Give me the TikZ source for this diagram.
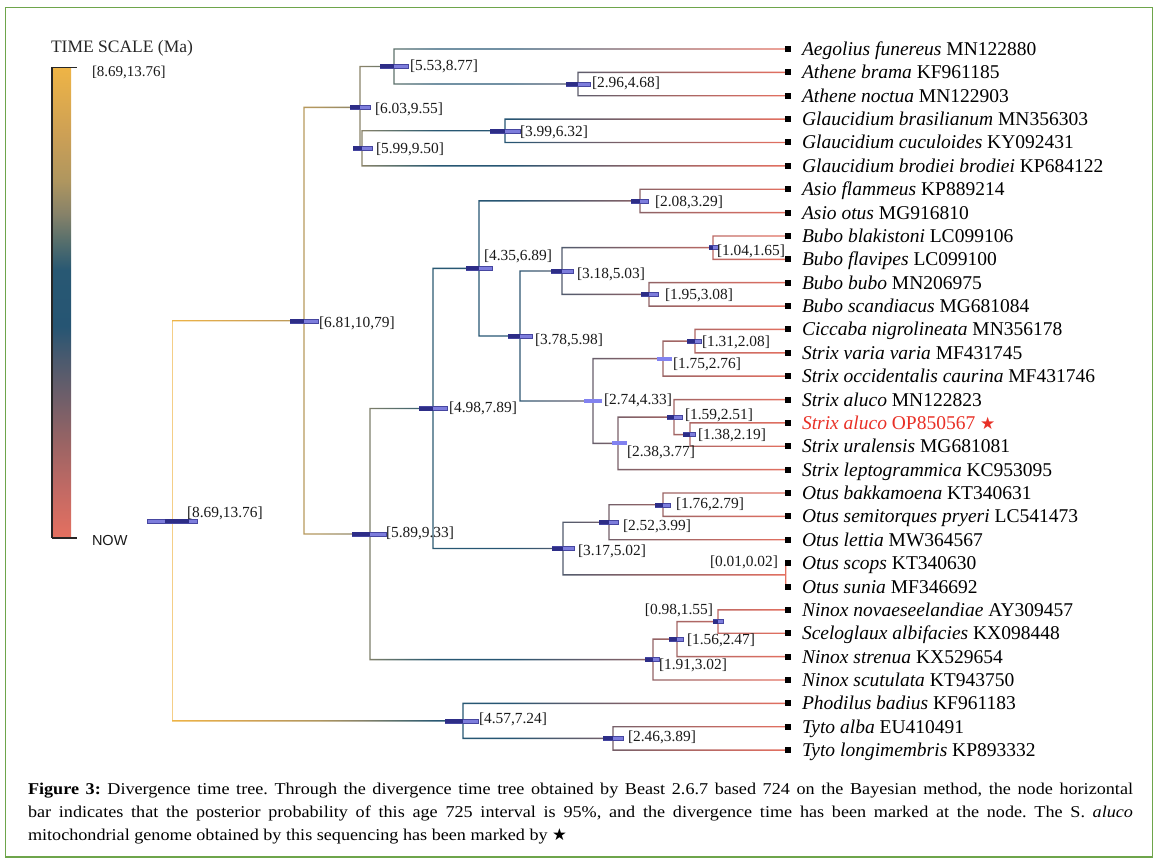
\documentclass[tikz,border=0pt]{standalone}
\usepackage{fontspec}
\setmainfont{Liberation Serif}
\setsansfont{Liberation Sans}
\newfontfamily\symfont{DejaVu Sans}
\newfontfamily\capfont[FakeStretch=1.1]{Liberation Serif}
\usetikzlibrary{calc}
\definecolor{k0}{RGB}{238,180,70}
\definecolor{k1}{RGB}{205,160,85}
\definecolor{k2}{RGB}{175,150,95}
\definecolor{k3}{RGB}{135,130,105}
\definecolor{k4}{RGB}{85,110,108}
\definecolor{k5}{RGB}{40,88,115}
\definecolor{k6}{RGB}{38,85,115}
\definecolor{k7}{RGB}{75,90,110}
\definecolor{k8}{RGB}{115,95,105}
\definecolor{k9}{RGB}{155,100,100}
\definecolor{k10}{RGB}{195,106,100}
\definecolor{k11}{RGB}{228,112,96}
\definecolor{barD}{RGB}{45,45,135}
\definecolor{barL}{RGB}{125,125,220}
\definecolor{barE}{RGB}{70,70,160}
\definecolor{barP}{RGB}{130,130,240}
\definecolor{frameG}{RGB}{110,165,75}
\definecolor{starR}{RGB}{232,48,38}
\pgfdeclarehorizontalshading{timeH}{100bp}{color(0bp)=(k0); color(25bp)=(k0); color(32bp)=(k1); color(37bp)=(k2); color(40.5bp)=(k3); color(43.5bp)=(k4); color(46.5bp)=(k5); color(52.5bp)=(k6); color(56bp)=(k7); color(60.5bp)=(k8); color(65bp)=(k9); color(70bp)=(k10); color(75bp)=(k11); color(100bp)=(k11)}
\pgfdeclareverticalshading{timeV}{100bp}{color(0bp)=(k11); color(25bp)=(k11); color(30bp)=(k10); color(35bp)=(k9); color(39.5bp)=(k8); color(44bp)=(k7); color(47.5bp)=(k6); color(53.5bp)=(k5); color(56.5bp)=(k4); color(59.5bp)=(k3); color(63bp)=(k2); color(68bp)=(k1); color(75bp)=(k0); color(100bp)=(k0)}
\begin{document}
\begin{tikzpicture}[x=1pt, y=-1pt,
  every node/.style={inner sep=0pt, outer sep=0pt},
  leaftext/.style={anchor=base west, font=\fontsize{19.5}{22}\selectfont, text=black},
  agelab/.style={anchor=west, font=\fontsize{15.4}{18}\selectfont, text=black!90},
  leafsq/.style={fill=black, minimum size=6pt},
  barlight/.style={fill=barL, draw=barE, line width=0.4pt},
  bardark/.style={fill=barD},
  barpale/.style={fill=barP},
  captext/.style={anchor=base west, font=\capfont\frenchspacing\fontsize{16.5}{20}\selectfont, text=black}]
\useasboundingbox (0,0) rectangle (1160,861);
\draw[frameG, line width=1.5pt] (5.5,7.5) rectangle (1152.5,857);

% ---------- time scale ----------
\node[anchor=west, font=\fontsize{17.5}{20}\selectfont, text=black!85] (tstitle) at (51,48.5) {TIME SCALE (Ma)};
\shade[shading=timeV] (53,68) rectangle (71,538);
\coordinate (sbTop) at (51.5,67.5);
\coordinate (sbBot) at (51.5,538);
\draw[black!85, line width=2pt] (sbTop) -- (sbBot);
\draw[black!85, line width=1.5pt] (sbTop) -- ++(25.5,0);
\draw[black!85, line width=1.5pt] (sbBot) -- ++(25.5,0);
\node[anchor=west, font=\fontsize{15}{18}\selectfont, text=black!90] (tsold) at (92,72) {[8.69,13.76]};
\node[anchor=west, font=\sffamily\fontsize{14.5}{17}\selectfont, text=black!90] (tsnow) at (92,541) {NOW};

% ---------- leaves ----------
\foreach \i in {0,...,30} \coordinate (t\i) at (785.7,{49+23.37*\i});

% ---------- internal nodes ----------
\coordinate (nRoot) at (172,520.8);
\coordinate (nA) at (304,320.7);
\coordinate (nB) at (360,107.4);
\coordinate (nC) at (394,66.5);
\coordinate (nE) at (578,84.05);
\coordinate (nD) at (362,148.35);
\coordinate (nG) at (505,130.8);
\coordinate (nF) at (370,534.0);
\coordinate (nH) at (433,408.5);
\coordinate (nI) at (479,268.45);
\coordinate (nM) at (640,200.9);
\coordinate (nJ) at (520,336.0);
\coordinate (nK) at (562,271.0);
\coordinate (nN) at (713,247.65);
\coordinate (nO) at (649,294.4);
\coordinate (nL) at (593,401.0);
\coordinate (nP) at (663,358.65);
\coordinate (nR2) at (695,341.1);
\coordinate (nQ) at (618,443.4);
\coordinate (nS) at (674,417.1);
\coordinate (nT) at (690,434.6);
\coordinate (nU) at (563,548.5);
\coordinate (nV) at (609,522.25);
\coordinate (nX) at (663,504.7);
\coordinate (nW) at (785.7,574.8);
\coordinate (nY) at (653,659.6);
\coordinate (nZ) at (677,639.1);
\coordinate (nAA) at (718,621.6);
\coordinate (nBB) at (463,720.9);
\coordinate (nCC) at (613,738.4);

% ---------- branches (coloured by age) ----------
\begin{scope}
\clip \foreach \p/\c/\s in {nRoot/nA/-1, nRoot/nBB/1, nA/nB/-1, nA/nF/1, nB/nC/-1, nB/nD/1,
  nC/t0/-1, nC/nE/1, nE/t1/-1, nE/t2/1, nD/nG/-1, nD/t5/1, nG/t3/-1, nG/t4/1,
  nF/nH/-1, nF/nY/1, nH/nI/-1, nH/nU/1, nI/nM/-1, nI/nJ/1, nM/t6/-1, nM/t7/1,
  nJ/nK/-1, nJ/nL/1, nK/nN/-1, nK/nO/1, nN/t8/-1, nN/t9/1, nO/t10/-1, nO/t11/1,
  nL/nP/-1, nL/nQ/1, nP/nR2/-1, nP/t14/1, nR2/t12/-1, nR2/t13/1, nQ/nS/-1, nQ/t18/1,
  nS/t15/-1, nS/nT/1, nT/t16/-1, nT/t17/1, nU/nV/-1, nU/nW/1, nV/nX/-1, nV/t21/1,
  nX/t19/-1, nX/t20/1, nW/t22/-1, nW/t23/1, nY/nZ/-1, nY/t27/1, nZ/nAA/-1, nZ/t26/1,
  nAA/t24/-1, nAA/t25/1, nBB/t28/-1, nBB/nCC/1, nCC/t29/-1, nCC/t30/1}
  { ($(\p)+(-0.7,0)$) -- ($(\p)+(0.7,0)$) -- ($(\p|-\c)+(0.7,{-0.7*\s})$)
    -- ($(\c)+(-0.7,{-0.7*\s})$) -- ($(\c)+(-0.7,{0.7*\s})$)
    -- ($(\p|-\c)+(-0.7,{0.7*\s})$) -- cycle };
\shade[shading=timeH] (172,20) rectangle (787,780);
\end{scope}

% ---------- 95% HPD bars ----------
\foreach \n/\a/\b in {nA/-14/14, nB/-10/10, nD/-9/10, nC/-14/14, nE/-12/12, nG/-15/15,
  nF/-18/16, nH/-14/14, nI/-13/13, nJ/-12/12, nM/-9/8, nK/-11/11, nN/-4/5, nO/-8/9,
  nR2/-8/6, nS/-7/8, nT/-7/5, nU/-11/11, nV/-10/9, nX/-8/7, nY/-8/6, nZ/-8/6,
  nAA/-5/5, nBB/-18/15, nCC/-10/10}
  { \filldraw[barlight] ($(\n)+(\a,-2)$) rectangle ($(\n)+(\b,2)$);
    \fill[bardark] ($(\n)+(\a,-2)$) rectangle ($(\n)+(0,2)$); }
\filldraw[barlight] ($(nRoot)+(-25,-2)$) rectangle ($(nRoot)+(25,2)$);
\fill[bardark] ($(nRoot)+(-7,-2)$) rectangle ($(nRoot)+(17,2)$);
\foreach \n/\a/\b in {nL/-9/9, nP/-6/9, nQ/-6/9}
  { \fill[barpale] ($(\n)+(\a,-2)$) rectangle ($(\n)+(\b,2)$); }

% ---------- age labels ----------
\node[agelab] (lbRoot) at (187,513) {[8.69,13.76]};
\node[agelab] (lbA) at (319,323) {[6.81,10,79]};
\node[agelab] (lbB) at (375,109) {[6.03,9.55]};
\node[agelab] (lbD) at (376,149) {[5.99,9.50]};
\node[agelab] (lbC) at (410,66) {[5.53,8.77]};
\node[agelab] (lbE) at (592,83) {[2.96,4.68]};
\node[agelab] (lbG) at (520,132) {[3.99,6.32]};
\node[agelab] (lbM) at (655,202) {[2.08,3.29]};
\node[agelab] (lbI) at (484,256) {[4.35,6.89]};
\node[agelab] (lbN) at (717,251) {[1.04,1.65]};
\node[agelab] (lbK) at (577,274) {[3.18,5.03]};
\node[agelab] (lbO) at (665,295) {[1.95,3.08]};
\node[agelab] (lbJ) at (535,340) {[3.78,5.98]};
\node[agelab] (lbR2) at (702,342) {[1.31,2.08]};
\node[agelab] (lbP) at (673,364) {[1.75,2.76]};
\node[agelab] (lbL) at (604,400) {[2.74,4.33]};
\node[agelab] (lbH) at (449,408) {[4.98,7.89]};
\node[agelab] (lbS) at (685,415) {[1.59,2.51]};
\node[agelab] (lbT) at (698,435) {[1.38,2.19]};
\node[agelab] (lbQ) at (627,452) {[2.38,3.77]};
\node[agelab] (lbX) at (676,504) {[1.76,2.79]};
\node[agelab] (lbV) at (623,526) {[2.52,3.99]};
\node[agelab] (lbF) at (386,533) {[5.89,9.33]};
\node[agelab] (lbU) at (578,551) {[3.17,5.02]};
\node[agelab, anchor=east] (lbW) at (778,562) {[0.01,0.02]};
\node[agelab, anchor=east] (lbAA) at (713,610) {[0.98,1.55]};
\node[agelab] (lbZ) at (687,640) {[1.56,2.47]};
\node[agelab] (lbY) at (659,665) {[1.91,3.02]};
\node[agelab] (lbBB) at (479,719) {[4.57,7.24]};
\node[agelab] (lbCC) at (628,737) {[2.46,3.89]};

% ---------- tip squares and names ----------
\foreach \i in {0,...,30} \node[leafsq] (sq\i) at ($(t\i)+(2.3,0)$) {};
\foreach \i/\g/\a in {0/Aegolius funereus/MN122880, 1/Athene brama/KF961185,
  2/Athene noctua/MN122903, 3/Glaucidium brasilianum/MN356303,
  4/Glaucidium cuculoides/KY092431, 5/Glaucidium brodiei brodiei/KP684122,
  6/Asio flammeus/KP889214, 7/Asio otus/MG916810, 8/Bubo blakistoni/LC099106,
  9/Bubo flavipes/LC099100, 10/Bubo bubo/MN206975, 11/Bubo scandiacus/MG681084,
  12/Ciccaba nigrolineata/MN356178, 13/Strix varia varia/MF431745,
  14/Strix occidentalis caurina/MF431746, 15/Strix aluco/MN122823,
  17/Strix uralensis/MG681081, 18/Strix leptogrammica/KC953095,
  19/Otus bakkamoena/KT340631, 20/Otus semitorques pryeri/LC541473,
  21/Otus lettia/MW364567, 22/Otus scops/KT340630, 23/Otus sunia/MF346692,
  24/Ninox novaeseelandiae/AY309457, 25/Sceloglaux albifacies/KX098448,
  26/Ninox strenua/KX529654, 27/Ninox scutulata/KT943750,
  28/Phodilus badius/KF961183, 29/Tyto alba/EU410491, 30/Tyto longimembris/KP893332}
  { \node[leaftext] (lab\i) at ($(t\i)+(16.3,6.5)$) {\textit{\g} \a}; }
\node[leaftext, text=starR] (lab16) at ($(t16)+(16.3,6.5)$) {\textit{Strix aluco} OP850567 {\symfont\fontsize{17}{20}\selectfont ★}};

% ---------- caption ----------
\node[captext] (cap1) at (28,794) {\makebox[1105pt][s]{\textbf{Figure 3:} Divergence time tree. Through the divergence time tree obtained by Beast 2.6.7 based 724 on the Bayesian method, the node horizontal}};
\node[captext] (cap2) at (28,817) {\makebox[1105pt][s]{bar indicates that the posterior probability of this age 725 interval is 95\%, and the divergence time has been marked at the node. The S. \textit{aluco}}};
\node[captext] (cap3) at (28,840) {mitochondrial genome obtained by this sequencing has been marked by {\symfont ★}};
\end{tikzpicture}
\end{document}
